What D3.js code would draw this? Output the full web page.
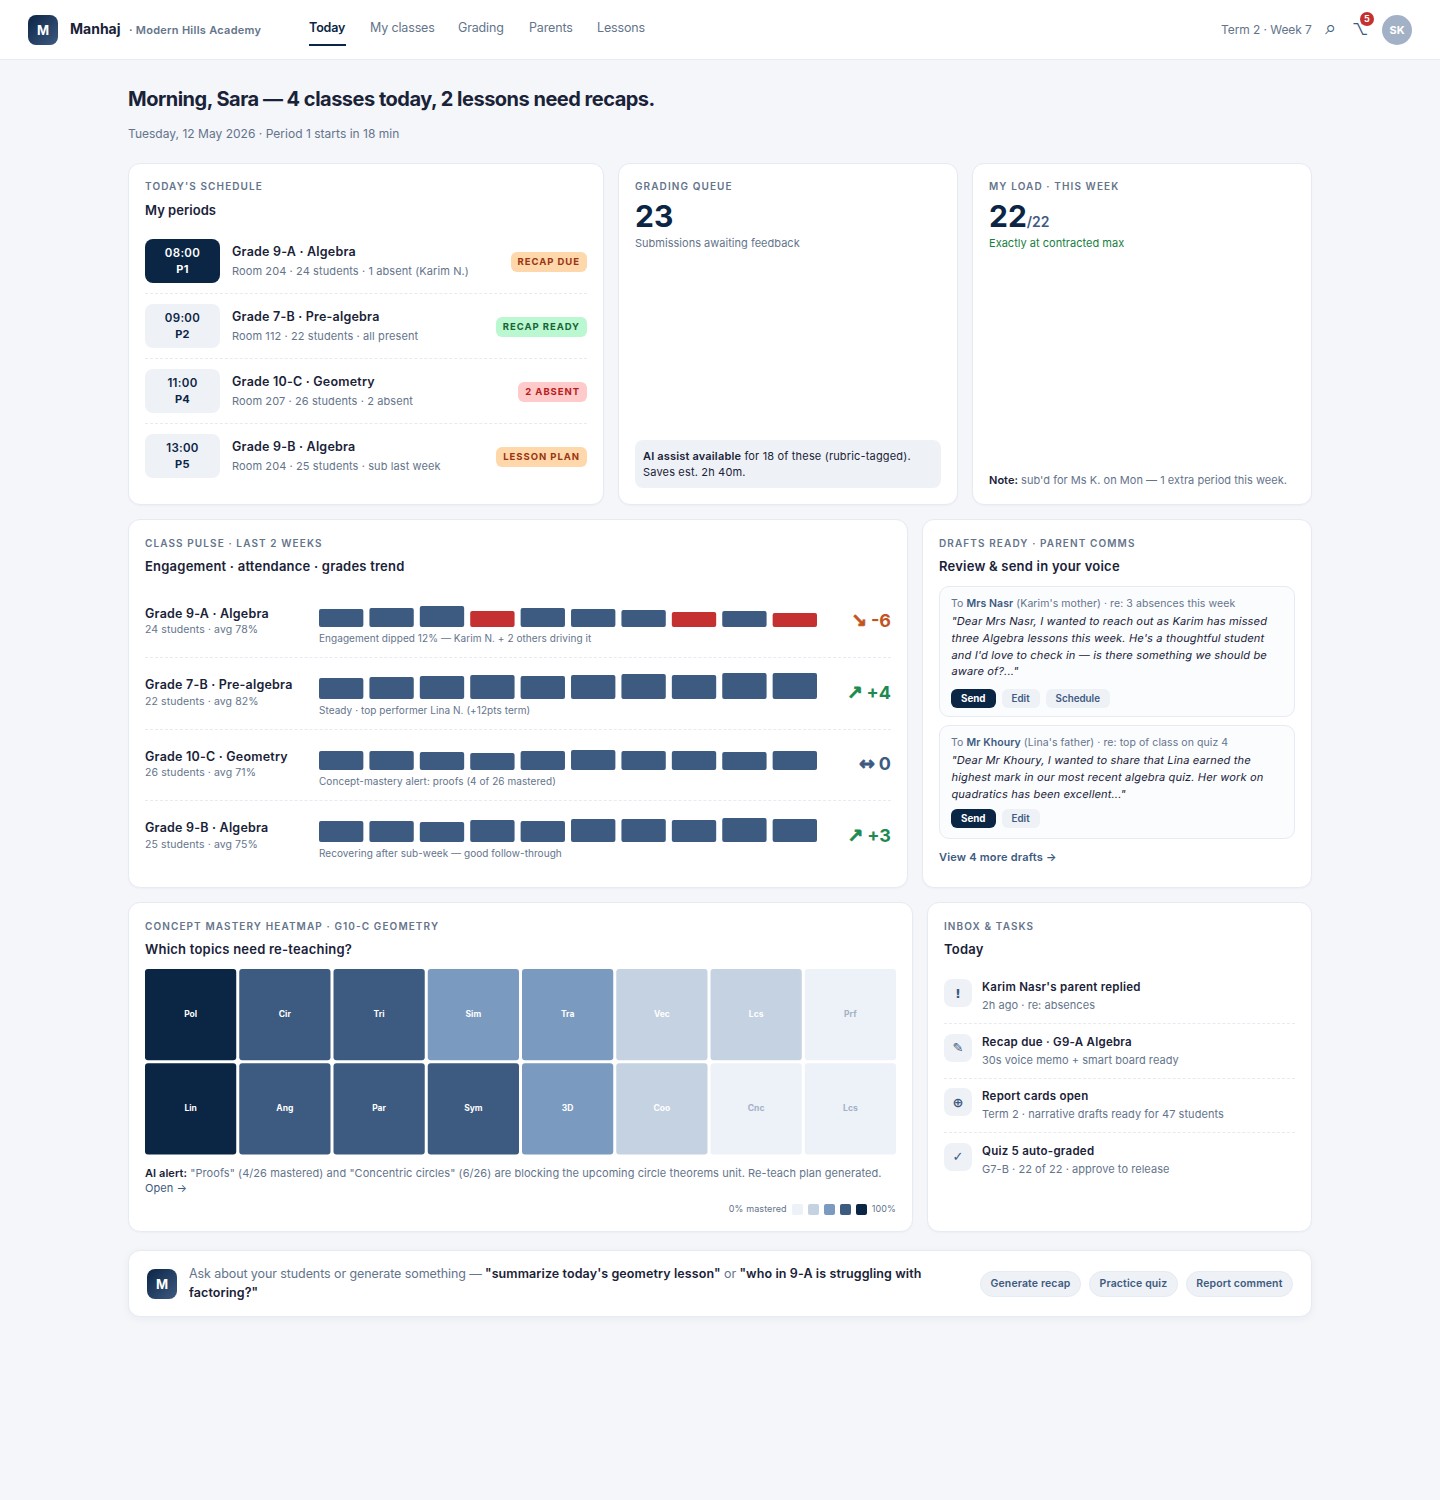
<!DOCTYPE html>
<html><head><meta charset="utf-8"><title>Manhaj</title>
<script src="https://cdn.jsdelivr.net/npm/d3@7"></script>
<style>
*{box-sizing:border-box}
html,body{margin:0;padding:0}
body{width:1440px;height:1500px;background:#f4f6fa;font-family:Inter,"Noto Sans",sans-serif;color:#1a2238;position:relative;overflow:hidden;-webkit-font-smoothing:antialiased}
header{position:absolute;left:0;top:0;width:1440px;height:60px;background:#fff;border-bottom:1px solid #e6eaf2}
.abs{position:absolute;white-space:nowrap}
.logo{left:28px;top:15px;width:30px;height:30px;border-radius:8px;background:linear-gradient(135deg,#0b2545,#3d5a80);color:#fff;font-weight:700;font-size:13px;display:flex;align-items:center;justify-content:center}
.nav{top:20px;font-size:12.5px;color:#64748b;line-height:16px;letter-spacing:-.15px}
.card{position:absolute;background:#fff;border:1px solid #e6eaf2;border-radius:12px;box-shadow:0 1px 2px rgba(15,30,60,.03)}
.lab{position:absolute;left:16px;top:17px;font-size:10px;font-weight:600;letter-spacing:1.1px;color:#64748b;line-height:12px;white-space:nowrap}
.tt{position:absolute;left:16px;top:38px;font-size:13px;font-weight:600;line-height:16px;white-space:nowrap;letter-spacing:.22px}
.row{position:absolute;left:16px;height:65px;border-bottom:1px dashed #e6eaf2}
.tb{position:absolute;left:0;top:10px;width:75px;height:44px;border-radius:8px;background:#eef1f6;color:#0b2545;text-align:center;font-size:11.5px;font-weight:600;line-height:16px;padding-top:6px;letter-spacing:.3px}
.tb.on{background:#0b2545;color:#fff}
.rn{position:absolute;left:87px;top:15px;font-size:12.5px;font-weight:600;line-height:16px;white-space:nowrap;letter-spacing:.21px}
.rs{position:absolute;left:87px;top:35px;font-size:11px;color:#64748b;line-height:14px;white-space:nowrap;letter-spacing:.1px}
.pill{position:absolute;right:0;top:23px;height:20px;padding:0 7px;border-radius:6px;font-size:9.5px;font-weight:700;letter-spacing:.95px;line-height:20px;white-space:nowrap}
.big{position:absolute;left:16px;top:35px;font-size:30px;font-weight:700;line-height:34px;color:#0b2545;white-space:nowrap}
.big small{font-size:14px;font-weight:600;color:#3d5a80}
.sub{position:absolute;left:16px;top:72px;font-size:11px;line-height:14px;white-space:nowrap;color:#64748b;letter-spacing:.02px}
.pr{position:absolute;left:16px;height:72px}
.pn{position:absolute;left:0;top:19.6px;font-size:12.5px;font-weight:600;line-height:16px;white-space:nowrap;letter-spacing:.21px}
.ps{position:absolute;left:0;top:37.4px;font-size:10.5px;color:#64748b;line-height:14px;white-space:nowrap;letter-spacing:.1px}
.pnote{position:absolute;left:174px;top:46px;font-size:10px;color:#64748b;line-height:12px;white-space:nowrap;letter-spacing:.06px}
.tr{position:absolute;right:0;top:23px;font-size:18px;font-weight:700;line-height:24px;white-space:nowrap}
.tr span{font-family:"DejaVu Sans";font-size:19px;line-height:20px;font-weight:700;margin-right:4px;-webkit-text-stroke:.7px currentColor}
.pdiv{position:absolute;left:0;right:0;bottom:0;border-bottom:1px dashed #e6eaf2}
.dr{position:absolute;left:16px;width:356px;background:#fbfcfe;border:1px solid #e6eaf2;border-radius:10px;padding:10px 11px 9px}
.dto{font-size:10.5px;line-height:14px;color:#64748b;white-space:nowrap;letter-spacing:.08px}
.dto b{font-weight:600;color:#3d5a80}
.dq{font-size:11px;line-height:16.8px;margin-top:2px;color:#1a2238}
.dq div{white-space:nowrap;transform:skewX(-10deg);transform-origin:0 70%;letter-spacing:.17px}
.btns{margin-top:9px;display:flex;gap:6px}
.btn{height:19px;line-height:19px;border-radius:6px;padding:0 10px;font-size:9.8px;font-weight:600;background:#eef1f6;color:#3d5a80}
.btn.on{background:#0b2545;color:#fff;font-weight:700}
.link{font-size:11px;font-weight:600;color:#3d5a80;letter-spacing:.2px}
.it{position:absolute;left:16px;right:16px;border-bottom:1px dashed #e6eaf2}
.it:last-child{border-bottom:none}
.ic{position:absolute;left:0;top:0;width:28px;height:28px;border-radius:8px;background:#eef1f6;color:#3d5a80;font-family:"DejaVu Sans";font-size:13px;font-weight:600;display:flex;align-items:center;justify-content:center}
.in{position:absolute;left:38px;top:0;font-size:11.5px;font-weight:600;line-height:16px;white-space:nowrap;letter-spacing:.25px}
.is{position:absolute;left:38px;top:19px;font-size:11px;color:#64748b;line-height:14px;white-space:nowrap;letter-spacing:.05px}
.chip{height:26px;line-height:24px;padding:0 9.5px;border:1px solid #e6eaf2;border-radius:13px;background:#eef1f6;color:#3d5a80;font-size:10.5px;font-weight:600;white-space:nowrap;letter-spacing:.13px}
svg{display:block;position:absolute}
svg text{font-family:Inter,"Noto Sans",sans-serif}
</style></head><body>
<header></header>
<script>
// ---------- data ----------
const navItems=["Today","My classes","Grading","Parents","Lessons"];
const scheduleTimes=["08:00","09:00","11:00","13:00"];
const schedulePeriods=["P1","P2","P4","P5"];
const scheduleClasses=["Grade 9-A · Algebra","Grade 7-B · Pre-algebra","Grade 10-C · Geometry","Grade 9-B · Algebra"];
const scheduleNotes=["Room 204 · 24 students · 1 absent (Karim N.)","Room 112 · 22 students · all present","Room 207 · 26 students · 2 absent","Room 204 · 25 students · sub last week"];
const scheduleTags=["RECAP DUE","RECAP READY","2 ABSENT","LESSON PLAN"];
const tagBg=["#fed7aa","#bbf7d0","#fecaca","#fed7aa"];
const tagFg=["#9a3412","#166534","#b91c1c","#9a3412"];
const pulseClasses=scheduleClasses;
const pulseMeta=["24 students · avg 78%","22 students · avg 82%","26 students · avg 71%","25 students · avg 75%"];
const pulseNotes=["Engagement dipped 12% — Karim N. + 2 others driving it","Steady · top performer Lina N. (+12pts term)","Concept-mastery alert: proofs (4 of 26 mastered)","Recovering after sub-week — good follow-through"];
const pulse9A=[60,63,70,53,63,60,57,50,53,47];
const pulse7B=[70,73,77,80,77,80,83,80,87,87];
const pulse10C=[63,63,60,57,63,67,63,63,60,63];
const pulse9B=[70,70,67,73,70,77,77,73,80,77];
const pulseAlerts=[[3,7,9],[],[],[]];
const pulseArrows=["↘","↗","↔","↗"];
const pulseTrends=["-6","+4","0","+3"];
const trendColors=["#c2541e","#1e8a4f","#3d5a80","#1e8a4f"];
const heatTop=["Pol","Cir","Tri","Sim","Tra","Vec","Lcs","Prf"];
const heatBottom=["Lin","Ang","Par","Sym","3D","Coo","Cnc","Lcs"];
const heatTopLevel=[4,3,3,2,2,1,1,0];
const heatBottomLevel=[4,3,3,3,2,1,0,0];
const heatColors=["#edf1f8","#c5d2e2","#7b9ac0","#3d5a80","#0b2545"];
const inboxTitles=["Karim Nasr's parent replied","Recap due · G9-A Algebra","Report cards open","Quiz 5 auto-graded"];
const inboxSubs=["2h ago · re: absences","30s voice memo + smart board ready","Term 2 · narrative drafts ready for 47 students","G7-B · 22 of 22 · approve to release"];
const inboxIcons=["!","✎","⊕","✓"];
const chips=["Generate recap","Practice quiz","Report comment"];
const quote1=['"Dear Mrs Nasr, I wanted to reach out as Karim has missed','three Algebra lessons this week. He\'s a thoughtful student','and I\'d love to check in — is there something we should be','aware of?..."'];
const quote2=['"Dear Mr Khoury, I wanted to share that Lina earned the','highest mark in our most recent algebra quiz. Her work on','quadratics has been excellent..."'];

// ---------- helpers ----------
const body=d3.select("body");
function el(p,cls,txt){const s=p.append("div").attr("class",cls);if(txt!==undefined)s.text(txt);return s;}
function abs(txt,css,html){const s=body.append("div").attr("class","abs");Object.entries(css).forEach(([k,v])=>s.style(k,v));if(html)s.html(txt);else s.text(txt);return s;}
function card(l,t,w,h,lab,title){const c=body.append("div").attr("class","card").style("left",l+"px").style("top",t+"px").style("width",w+"px").style("height",h+"px");
 if(lab)el(c,"lab",lab);if(title)el(c,"tt",title);return c;}

// ---------- header ----------
el(body,"abs logo","M");
abs("Manhaj",{left:"70px",top:"20px","font-size":"14px","font-weight":700,"line-height":"18px"});
abs("· Modern Hills Academy",{left:"129px",top:"23px","font-size":"11px","font-weight":600,"line-height":"14px",color:"#64748b","letter-spacing":".27px"});
const navX=[309,370,458,529,597];
navItems.forEach((n,i)=>{const s=el(body,"abs nav",n).style("left",navX[i]+"px");if(!i)s.style("color","#0b2545").style("font-weight",600);});
abs("",{left:"309px",top:"44px",width:"37px",height:"2px",background:"#0b2545"});
abs("Term 2 · Week 7",{left:"1221px",top:"22px","font-size":"12px","line-height":"16px",color:"#64748b","letter-spacing":"-.07px"});
abs("⌕",{left:"1325px",top:"17px","font-size":"20px","line-height":"20px",color:"#3d5a80"});
abs("⌥",{left:"1352px",top:"19px","font-size":"16px","line-height":"20px",color:"#3d5a80"});
abs("5",{left:"1360px",top:"12px",width:"14px",height:"14px","border-radius":"7px",background:"#c53030",color:"#fff","font-size":"9px","font-weight":700,"line-height":"14px","text-align":"center"});
abs("SK",{left:"1382px",top:"15px",width:"30px",height:"30px","border-radius":"15px",background:"#a3b1c6",color:"#fff","font-size":"11px","font-weight":700,"line-height":"30px","text-align":"center"});

// ---------- headline ----------
abs("Morning, Sara — 4 classes today, 2 lessons need recaps.",{left:"128px",top:"86px","font-size":"20px","font-weight":700,"line-height":"26px","letter-spacing":"-.5px"});
abs("Tuesday, 12 May 2026 · Period 1 starts in 18 min",{left:"128px",top:"126px","font-size":"12px","line-height":"16px",color:"#64748b","letter-spacing":".02px"});

// ---------- schedule ----------
const sc=card(128,163,476,342,"TODAY'S SCHEDULE","My periods");
sc.select(".tt").style("letter-spacing",".03px");
sc.select(".lab").style("top","16px");
scheduleClasses.forEach((c,i)=>{
 const r=el(sc,"row").style("top",(65+65*i)+"px").style("width","442px");
 if(i==3)r.style("border-bottom","none");
 const tb=el(r,"tb"+(i==0?" on":""));el(tb,"",scheduleTimes[i]);el(tb,"",schedulePeriods[i]).style("font-weight",700).style("font-size","11px");
 el(r,"rn",c);el(r,"rs",scheduleNotes[i]);
 el(r,"pill",scheduleTags[i]).style("background",tagBg[i]).style("color",tagFg[i]);
});

// ---------- grading queue ----------
const gq=card(618,163,340,342,"GRADING QUEUE");
gq.select(".lab").style("top","16px");
el(gq,"big","23");el(gq,"sub","Submissions awaiting feedback");
gq.append("div").style("position","absolute").style("left","16px").style("top","276px").style("width","306px").style("height","48px").style("background","#eef1f6").style("border-radius","8px").style("padding","8px").style("font-size","11px").style("line-height","16px").style("letter-spacing",".17px").style("white-space","nowrap")
 .html('<b style="font-weight:600">AI assist available</b> for 18 of these (rubric-tagged).<br>Saves est. 2h 40m.');

// ---------- load ----------
const ld=card(972,163,340,342,"MY LOAD · THIS WEEK");
ld.select(".lab").style("top","16px");
el(ld,"big").html('22<small>/22</small>');
el(ld,"sub","Exactly at contracted max").style("color","#15803d");
ld.append("div").style("position","absolute").style("left","16px").style("top","308px").style("font-size","11px").style("line-height","16px").style("color","#64748b").style("white-space","nowrap").style("letter-spacing",".03px")
 .html('<b style="font-weight:600;color:#1a2238">Note:</b> sub\'d for Ms K. on Mon — 1 extra period this week.');

// ---------- class pulse ----------
const cp=card(128,519,780,369,"CLASS PULSE · LAST 2 WEEKS","Engagement · attendance · grades trend");
const pulseSeries=[pulse9A,pulse7B,pulse10C,pulse9B];
const sessions=d3.range(10);
const px=d3.scaleBand().domain(sessions).range([0,498]).paddingInner(0.12).paddingOuter(0);
const ph=d3.scaleLinear().domain([0,100]).range([0,30]);
pulseClasses.forEach((c,i)=>{
 const r=el(cp,"pr").style("top",(66+71.5*i)+"px").style("width","746px");
 el(r,"pn",c);el(r,"ps",pulseMeta[i]);el(r,"pnote",pulseNotes[i]);
 const tr=el(r,"tr").style("color",trendColors[i]);
 tr.append("span").text(pulseArrows[i]);
 tr.append("tspan").text(pulseTrends[i]);
 if(i<3)el(r,"pdiv");
 const svg=r.append("svg").attr("width",498).attr("height",32).style("left","174px").style("top","9px");
 svg.selectAll("rect").data(pulseSeries[i]).join("rect")
  .attr("x",(d,j)=>px(j)).attr("width",px.bandwidth())
  .attr("y",d=>32-ph(d)).attr("height",d=>ph(d)).attr("rx",2)
  .attr("fill",(d,j)=>pulseAlerts[i].includes(j)?"#c53030":"#3d5a80");
});

// ---------- drafts ----------
const df=card(922,519,390,369,"DRAFTS READY · PARENT COMMS","Review & send in your voice");
const d1=el(df,"dr").style("top","66px").style("height","131px");
el(d1,"dto").html('To <b>Mrs Nasr</b> (Karim\'s mother) · re: 3 absences this week');
const q1=el(d1,"dq");quote1.forEach(l=>el(q1,"",l));
let b=el(d1,"btns");el(b,"btn on","Send");el(b,"btn","Edit");el(b,"btn","Schedule");
const d2=el(df,"dr").style("top","205px").style("height","114px");
el(d2,"dto").html('To <b>Mr Khoury</b> (Lina\'s father) · re: top of class on quiz 4');
const q2=el(d2,"dq");quote2.forEach(l=>el(q2,"",l));
b=el(d2,"btns").style("margin-top","7px");el(b,"btn on","Send");el(b,"btn","Edit");
el(df,"link","View 4 more drafts →").style("position","absolute").style("left","16px").style("top","330px").style("line-height","14px").style("white-space","nowrap");

// ---------- heatmap ----------
const hm=card(128,902,785,330,"CONCEPT MASTERY HEATMAP · G10-C GEOMETRY","Which topics need re-teaching?");
const hx=d3.scaleBand().domain(d3.range(8)).range([0,751]).paddingInner(0.032).paddingOuter(0);
const hy=d3.scaleBand().domain([0,1]).range([0,185.5]).paddingInner(0.032).paddingOuter(0);
const heatCells=[];
heatTop.forEach((t,i)=>heatCells.push({t,l:heatTopLevel[i],c:i,r:0}));
heatBottom.forEach((t,i)=>heatCells.push({t,l:heatBottomLevel[i],c:i,r:1}));
const hs=hm.append("svg").attr("width",751).attr("height",186).style("left","16px").style("top","66px");
const hg=hs.selectAll("g").data(heatCells).join("g").attr("transform",d=>`translate(${hx(d.c)},${hy(d.r)})`);
hg.append("rect").attr("width",hx.bandwidth()).attr("height",hy.bandwidth()).attr("rx",3).attr("fill",d=>heatColors[d.l]);
hg.append("text").attr("x",hx.bandwidth()/2).attr("y",hy.bandwidth()/2-.7).attr("dy",".35em").attr("text-anchor","middle").attr("font-size",8.5).attr("font-weight",700)
 .attr("fill",d=>d.l==0?"#a3b1c6":"#fff").text(d=>d.t);
hm.append("div").style("position","absolute").style("left","16px").style("top","263px").style("width","751px").style("font-size","11px").style("line-height","15px").style("color","#64748b").style("letter-spacing",".07px")
 .html('<b style="font-weight:600;color:#1a2238">AI alert:</b> "Proofs" (4/26 mastered) and "Concentric circles" (6/26) are blocking the upcoming circle theorems unit. Re-teach plan generated. <span style="color:#3d5a80">Open →</span>');
const lg=hm.append("div").style("position","absolute").style("right","16px").style("top","300px").style("display","flex").style("align-items","center").style("gap","5px").style("font-size","9px").style("color","#64748b").style("line-height","12px").style("letter-spacing",".1px");
lg.append("span").text("0% mastered");
heatColors.forEach(c=>lg.append("span").style("width","11px").style("height","11px").style("border-radius","2px").style("background",c));
lg.append("span").text("100%");

// ---------- inbox ----------
const ib=card(927,902,385,330,"INBOX & TASKS","Today");
inboxTitles.forEach((t,i)=>{
 const r=el(ib,"it").style("top",(76+54.5*i)+"px").style("height","45px");
 el(r,"ic",inboxIcons[i]);el(r,"in",t);el(r,"is",inboxSubs[i]);
});

// ---------- ask bar ----------
const ab=card(128,1250,1184,67);
ab.style("box-shadow","0 2px 8px rgba(15,30,60,.05)");
ab.append("div").style("position","absolute").style("left","18px").style("top","18px").style("width","30px").style("height","30px").style("border-radius","8px").style("background","linear-gradient(135deg,#0b2545,#3d5a80)").style("color","#fff").style("font-weight","700").style("font-size","13px").style("display","flex").style("align-items","center").style("justify-content","center").text("M");
ab.append("div").style("position","absolute").style("left","60px").style("top","14px").style("width","760px").style("font-size","12.5px").style("line-height","18.5px").style("color","#64748b").style("letter-spacing","-.09px")
 .html('Ask about your students or generate something — <b style="font-weight:600;color:#1a2238;letter-spacing:.1px">"summarize today\'s geometry lesson"</b> or <b style="font-weight:600;color:#1a2238;letter-spacing:.1px">"who in 9-A is struggling with factoring?"</b>');
const cw=ab.append("div").style("position","absolute").style("right","18px").style("top","20px").style("display","flex").style("gap","8px");
chips.forEach(c=>el(cw,"chip",c));
</script>
</body></html>
